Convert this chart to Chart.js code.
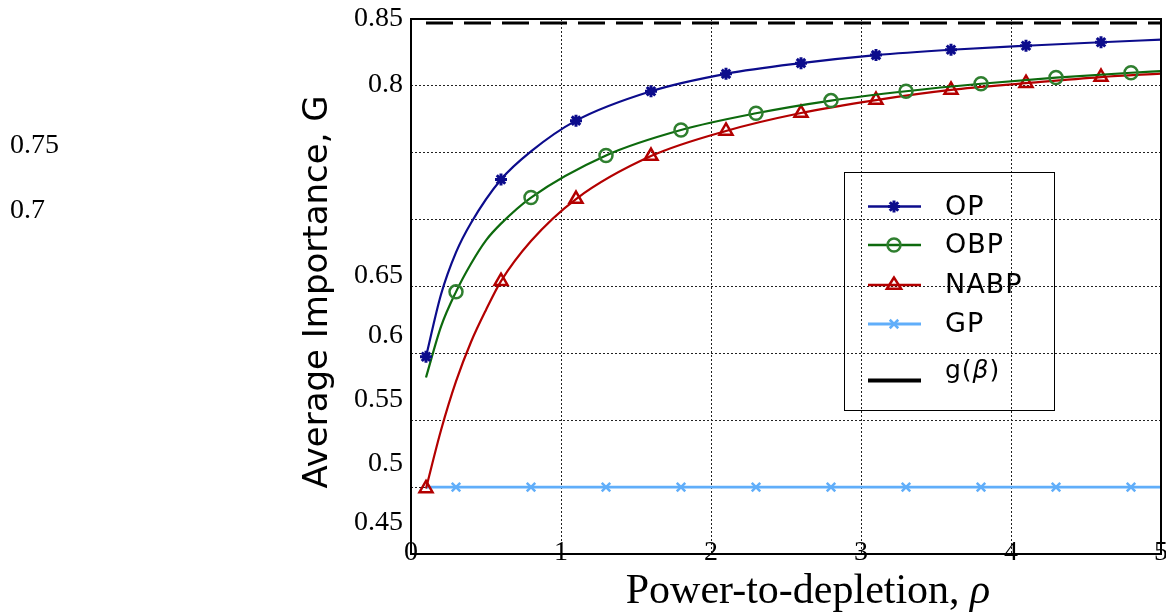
<!DOCTYPE html>
<html>
<head>
<meta charset="utf-8">
<script src="https://cdn.jsdelivr.net/npm/chart.js@4.4.0/dist/chart.umd.min.js"></script>
<style>
  html, body { margin: 0; padding: 0; background: #fff; overflow: hidden; }
  #wrap { width: 1166px; height: 613px; }
  canvas { display: block; }
</style>
</head>
<body>
<div id="wrap"><canvas id="chart" width="1166" height="613"></canvas></div>
<script>
// Average importance vs power-to-depletion
const opX   = [0.1, 0.2, 0.3, 0.4, 0.6, 0.8, 1.1, 1.6, 2.1, 2.6, 3.1, 3.6, 4.1, 4.6, 5.0];
const opY   = [0.5975, 0.644, 0.6755, 0.6975, 0.730, 0.751, 0.774, 0.796, 0.809, 0.817, 0.823, 0.827, 0.830, 0.8326, 0.8346];

const obpX  = [0.1, 0.2, 0.3, 0.4, 0.5, 0.6, 0.8, 1.3, 1.8, 2.3, 2.8, 3.3, 3.8, 4.3, 4.8, 5.0];
const obpY  = [0.582, 0.620, 0.646, 0.667, 0.6845, 0.697, 0.7165, 0.748, 0.767, 0.7795, 0.789, 0.796, 0.8016, 0.8062, 0.8098, 0.811];

const nabpX = [0.1, 0.2, 0.3, 0.4, 0.5, 0.6, 0.8, 1.1, 1.6, 2.1, 2.6, 3.1, 3.6, 4.1, 4.6, 5.0];
const nabpY = [0.499, 0.5425, 0.579, 0.6085, 0.6325, 0.654, 0.684, 0.7154, 0.7475, 0.7663, 0.7797, 0.7894, 0.797, 0.802, 0.8066, 0.8092];

const gpX   = [0.1, 0.3, 0.8, 1.3, 1.8, 2.3, 2.8, 3.3, 3.8, 4.3, 4.8, 5.0];
const gpY   = [0.5, 0.5, 0.5, 0.5, 0.5, 0.5, 0.5, 0.5, 0.5, 0.5, 0.5, 0.5];

const gBetaX = [0.1, 5.0];
const gBetaY = [0.847, 0.847];

// Where the markers sit
const markersA = [0.1, 0.6, 1.1, 1.6, 2.1, 2.6, 3.1, 3.6, 4.1, 4.6];
const markersB = [0.3, 0.8, 1.3, 1.8, 2.3, 2.8, 3.3, 3.8, 4.3, 4.8];

// Axis ticks
const xTicks = [0, 1, 2, 3, 4, 5];
const yTicks = [0.45, 0.5, 0.55, 0.6, 0.65, 0.7, 0.75, 0.8, 0.85];
const yTickLabels = ['0.45', '0.5', '0.55', '0.6', '0.65', '0.7', '0.75', '0.8', '0.85'];

const seriesLabels = ['OP', 'OBP', 'NABP', 'GP', 'g(β)'];

// label drift of the original rendering (pixels, relative to tick)
const yLabelShift = [-31.5, -23, -20.5, -17.5, -10.5, -8.5, -7, -1.5, 0];
const yLabelLeft = [false, false, false, false, false, true, true, false, false];

function toPoints(xs, ys) {
    return xs.map((x, i) => ({ x: x, y: ys[i] }));
}

function markerRadius(list, r) {
    return ctx => (ctx.raw && list.includes(ctx.raw.x)) ? r : 0;
}

const colors = {
    op: '#0c0c8c',
    obp: '#0d6a0d',
    nabp: '#b30000',
    gp: '#60aefa'
};

const markerSize = { op: 6, obp: 6.5, nabp: 7.5, gp: 6 };

const datasets = [
    {
        key: 'op',
        label: seriesLabels[0],
        data: toPoints(opX, opY),
        borderColor: colors.op,
        borderWidth: 2.2,
        pointStyle: 'star',
        pointRadius: markerRadius(markersA, markerSize.op),
        pointBorderWidth: 3,
        pointBorderColor: colors.op,
        pointBackgroundColor: colors.op
    },
    {
        key: 'obp',
        label: seriesLabels[1],
        data: toPoints(obpX, obpY),
        borderColor: colors.obp,
        borderWidth: 2.2,
        pointStyle: 'circle',
        pointRadius: markerRadius(markersB, markerSize.obp),
        pointBorderWidth: 2.5,
        pointBorderColor: '#2f7f2f',
        pointBackgroundColor: 'rgba(0,0,0,0)'
    },
    {
        key: 'nabp',
        label: seriesLabels[2],
        data: toPoints(nabpX, nabpY),
        borderColor: colors.nabp,
        borderWidth: 2.2,
        pointStyle: 'triangle',
        pointRadius: markerRadius(markersA, markerSize.nabp),
        pointBorderWidth: 2.5,
        pointBorderColor: colors.nabp,
        pointBackgroundColor: 'rgba(0,0,0,0)'
    },
    {
        key: 'gp',
        label: seriesLabels[3],
        data: toPoints(gpX, gpY),
        borderColor: colors.gp,
        borderWidth: 2.6,
        pointStyle: 'crossRot',
        pointRadius: markerRadius(markersB, markerSize.gp),
        pointBorderWidth: 2.5,
        pointBorderColor: colors.gp,
        pointBackgroundColor: colors.gp
    },
    {
        key: 'g',
        label: seriesLabels[4],
        data: toPoints(gBetaX, gBetaY),
        borderColor: '#000',
        borderWidth: 3,
        borderDash: [27, 11],
        pointRadius: 0
    }
];
datasets.forEach(d => { d.fill = false; d.cubicInterpolationMode = 'monotone'; });

// small marker painter for the legend
function drawMarker(ctx, ds, x, y) {
    const r = markerSize[ds.key];
    ctx.save();
    ctx.lineWidth = ds.pointBorderWidth;
    ctx.strokeStyle = ds.pointBorderColor;
    ctx.beginPath();
    if (ds.pointStyle === 'circle') {
        ctx.arc(x, y, r, 0, Math.PI * 2);
    } else if (ds.pointStyle === 'triangle') {
        const h = r * 1.5;
        ctx.moveTo(x, y - r);
        ctx.lineTo(x - r * 0.95, y + h - r);
        ctx.lineTo(x + r * 0.95, y + h - r);
        ctx.closePath();
    } else if (ds.pointStyle === 'star') {
        for (let k = 0; k < 4; k++) {
            const a = k * Math.PI / 4;
            ctx.moveTo(x - Math.cos(a) * r, y - Math.sin(a) * r);
            ctx.lineTo(x + Math.cos(a) * r, y + Math.sin(a) * r);
        }
    } else if (ds.pointStyle === 'crossRot') {
        const d = r * 0.707;
        ctx.moveTo(x - d, y - d); ctx.lineTo(x + d, y + d);
        ctx.moveTo(x + d, y - d); ctx.lineTo(x - d, y + d);
    }
    ctx.stroke();
    ctx.restore();
}

const textPlugin = {
    id: 'textPlugin',
    afterDraw(chart) {
        const ctx = chart.ctx;
        const area = chart.chartArea;
        const xs = chart.scales.x;
        const ys = chart.scales.y;
        const serif = '"Liberation Serif", "Times New Roman", serif';

        // frame
        ctx.save();
        ctx.strokeStyle = '#000';
        ctx.lineWidth = 2;
        ctx.strokeRect(area.left, area.top, area.right - area.left, area.bottom - area.top);
        ctx.restore();

        // y tick labels
        ctx.save();
        ctx.fillStyle = '#000';
        ctx.font = '28px ' + serif;
        ctx.textBaseline = 'middle';
        yTicks.forEach((v, i) => {
            const py = ys.getPixelForValue(v) + yLabelShift[i];
            if (yLabelLeft[i]) {
                ctx.textAlign = 'left';
                ctx.fillText(yTickLabels[i], 10, py);
            } else {
                ctx.textAlign = 'right';
                ctx.fillText(yTickLabels[i], area.left - 8, py);
            }
        });

        // x tick labels, sitting on the axis line
        ctx.textAlign = 'center';
        xTicks.forEach(v => {
            ctx.fillText(String(v), xs.getPixelForValue(v), area.bottom - 1);
        });

        // x title
        ctx.textBaseline = 'alphabetic';
        ctx.textAlign = 'left';
        ctx.font = '42px ' + serif;
        const main = 'Power-to-depletion, ';
        const w1 = ctx.measureText(main).width;
        ctx.font = 'italic 42px ' + serif;
        const w2 = ctx.measureText('ρ').width;
        const startX = 808 - (w1 + w2) / 2;
        ctx.font = '42px ' + serif;
        ctx.fillText(main, startX, 603);
        ctx.font = 'italic 42px ' + serif;
        ctx.fillText('ρ', startX + w1, 603);

        // y title
        ctx.save();
        ctx.translate(327, 292);
        ctx.rotate(-Math.PI / 2);
        ctx.font = '34px "DejaVu Sans", sans-serif';
        ctx.textAlign = 'center';
        ctx.fillText('Average Importance, G', 0, 0);
        ctx.restore();
        ctx.restore();

        // legend
        ctx.save();
        ctx.strokeStyle = '#000';
        ctx.lineWidth = 1;
        ctx.strokeRect(844.5, 172.5, 210, 238);
        const rows = [206.5, 245, 285, 324, 380.5];
        ctx.font = '27px "DejaVu Sans", sans-serif';
        ctx.letterSpacing = '1px';
        ctx.fillStyle = '#000';
        ctx.textAlign = 'left';
        ctx.textBaseline = 'alphabetic';
        for (let i = 0; i < 4; i++) {
            const ds = datasets[i];
            ctx.strokeStyle = ds.borderColor;
            ctx.lineWidth = i === 3 ? 3 : 2.4;
            ctx.beginPath();
            ctx.moveTo(868, rows[i]);
            ctx.lineTo(921, rows[i]);
            ctx.stroke();
            drawMarker(ctx, ds, 894, rows[i]);
            ctx.fillText(seriesLabels[i], 945, rows[i] + 8);
        }
        ctx.strokeStyle = '#000';
        ctx.lineWidth = 4;
        ctx.beginPath();
        ctx.moveTo(868, rows[4]);
        ctx.lineTo(921, rows[4]);
        ctx.stroke();
        ctx.font = '25px "DejaVu Sans", sans-serif';
        const gy = rows[4] - 3;
        ctx.fillText('g(', 945, gy);
        const wa = ctx.measureText('g(').width;
        ctx.font = 'italic 25px "DejaVu Sans", sans-serif';
        ctx.fillText('β', 945 + wa, gy);
        const wb = ctx.measureText('β').width;
        ctx.font = '25px "DejaVu Sans", sans-serif';
        ctx.fillText(')', 945 + wa + wb, gy);
        ctx.restore();
    }
};

new Chart(document.getElementById('chart'), {
    type: 'line',
    data: { datasets: datasets },
    options: {
        responsive: false,
        animation: false,
        layout: { autoPadding: false, padding: { left: 411, right: 5, top: 19, bottom: 59 } },
        plugins: {
            legend: { display: false },
            tooltip: { enabled: false }
        },
        scales: {
            x: {
                type: 'linear',
                min: 0,
                max: 5,
                ticks: { stepSize: 1, display: false },
                grid: { color: '#222', lineWidth: 1, drawTicks: false },
                border: { display: false, dash: [2, 2] }
            },
            y: {
                type: 'linear',
                min: 0.45,
                max: 0.85,
                ticks: { stepSize: 0.05, display: false },
                grid: { color: '#222', lineWidth: 1, drawTicks: false },
                border: { display: false, dash: [2, 2] }
            }
        }
    },
    plugins: [textPlugin]
});
</script>
</body>
</html>
